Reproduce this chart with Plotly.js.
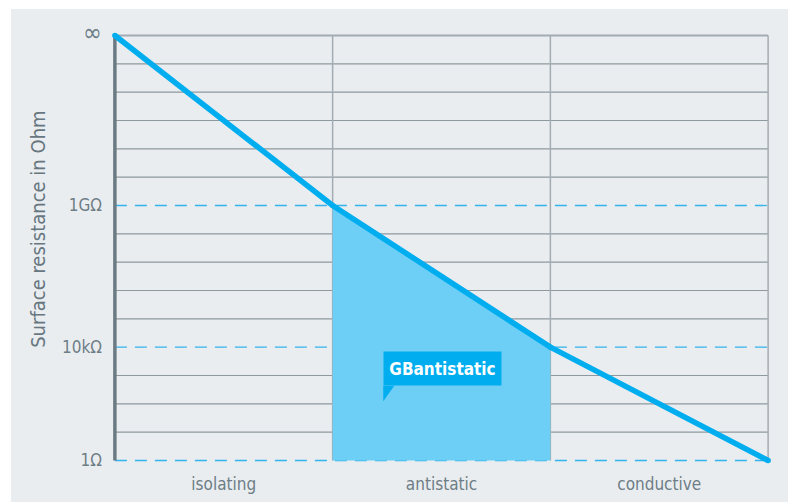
<!DOCTYPE html>
<html>
<head>
<meta charset="utf-8">
<script src="https://cdn.plot.ly/plotly-3.0.1.min.js"></script>
<style>
  html, body { margin:0; padding:0; background:#ffffff; width:788px; height:502px; overflow:hidden; }
  #chart { position:absolute; left:11px; top:9px; width:777px; height:493px; }
</style>
</head>
<body>
<div id="chart"></div>
<script>
// Category boundaries along x and the resistance level (log10 Ohm, ∞ drawn at top) at each boundary
const boundaries = [0, 1, 2, 3];
const levels = [15, 9, 4, 0];
const categories = ['isolating', 'antistatic', 'conductive'];
const categoryCenters = [0.5, 1.5, 2.5];
const tickValues = [0, 4, 9, 15];
const tickLabels = ['1Ω', '10kΩ', '1GΩ', '<span style="font-size:25px">∞</span>'];
const dashedLevels = [0, 4, 9];
const gridTop = 15;
const calloutText = 'GBantistatic';
const calloutX = 1.2326, calloutY = 2.622;

const FONT = 'Liberation Sans Narrow, DejaVu Sans Condensed, Roboto, sans-serif';
const TXT = '#6e7d86';

const shapes = [];
for (let lv = 1; lv <= gridTop; lv++) {
  if (dashedLevels.includes(lv)) continue;
  shapes.push({type:'line', xref:'x', yref:'y', x0:boundaries[0], x1:boundaries[boundaries.length-1], y0:lv, y1:lv,
    line:{color: lv === gridTop ? '#a3acb2' : '#8d989f', width: lv === gridTop ? 2 : 1.2}, layer:'below'});
}
dashedLevels.forEach(lv => shapes.push({type:'line', xref:'x', yref:'y', x0:boundaries[0], x1:boundaries[boundaries.length-1], y0:lv, y1:lv,
  line:{color:'#33b4ea', width:1.3, dash:'12px,8px'}, layer:'below'}));
boundaries.slice(1).forEach(b => shapes.push({type:'line', xref:'x', yref:'y', x0:b, x1:b, y0:0, y1:gridTop,
  line:{color:'#a3acb2', width:1.5}, layer:'below'}));
shapes.push({type:'line', xref:'x', yref:'y', x0:boundaries[0], x1:boundaries[0], y0:0, y1:gridTop,
  line:{color:'#6c7a83', width:3.5}, layer:'below'});
// callout tail
shapes.push({type:'path', xref:'x', yref:'y', xsizemode:'pixel', ysizemode:'pixel', xanchor:calloutX, yanchor:calloutY,
  path:'M0,0.5 L11,0.5 L0,-15 Z', fillcolor:'#00aeef', line:{width:0}, layer:'above'});

const fillX = [boundaries[1], boundaries[1], boundaries[2], boundaries[2]];
const fillY = [0, levels[1], levels[2], 0];

const traces = [
  {x: fillX, y: fillY, type:'scatter', mode:'lines', fill:'toself', fillcolor:'#6dcff6', line:{width:0}, hoverinfo:'skip'},
  {x: boundaries, y: levels, type:'scatter', mode:'lines+markers', line:{color:'#00aeef', width:5.5},
   marker:{color:'#00aeef', size:5.5}, hoverinfo:'skip'}
];

const layout = {
  width:777, height:493,
  paper_bgcolor:'#e9edf0', plot_bgcolor:'rgba(0,0,0,0)',
  margin:{l:93, r:9, t:18, b:33},
  showlegend:false,
  xaxis:{range:[-0.05, 3.05], showgrid:false, zeroline:false, showline:false,
    tickvals:categoryCenters, ticktext:categories, ticks:'', ticklabelstandoff:3,
    tickfont:{family:FONT, size:17, color:TXT}, fixedrange:true},
  yaxis:{range:[-0.3, 15.3], showgrid:false, zeroline:false, showline:false,
    tickvals:tickValues, ticktext:tickLabels, ticks:'', ticklabelstandoff:1,
    tickfont:{family:FONT, size:17, color:TXT}, fixedrange:true},
  shapes: shapes,
  annotations:[
    {xref:'paper', yref:'paper', x:-0.098, y:0.543, text:'Surface resistance in Ohm', textangle:-90, showarrow:false,
     xanchor:'center', yanchor:'middle', font:{family:FONT, size:20, color:'#67767f'}},
    {xref:'x', yref:'y', x:calloutX, y:calloutY, xanchor:'left', yanchor:'bottom', text:'<b>'+calloutText+'</b>',
     showarrow:false, bgcolor:'#00aeef', width:117, height:33, borderpad:0, align:'center', valign:'middle',
     font:{family:FONT, size:17, color:'#ffffff'}}
  ]
};
Plotly.newPlot('chart', traces, layout, {staticPlot:true, displayModeBar:false});
</script>
</body>
</html>
